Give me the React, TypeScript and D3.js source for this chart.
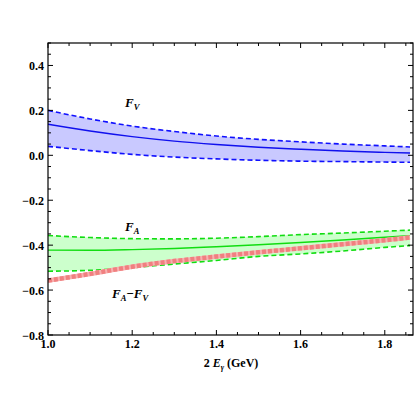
import React from "react";
import * as d3 from "d3";

const xs = [1.0, 1.1, 1.2, 1.3, 1.4, 1.5, 1.6, 1.7, 1.8, 1.86];
const fvCenter = [0.138, 0.108, 0.083, 0.063, 0.048, 0.036, 0.027, 0.019, 0.013, 0.01];
const fvUpper = [0.2, 0.162, 0.13, 0.106, 0.086, 0.071, 0.06, 0.05, 0.042, 0.037];
const fvLower = [0.04, 0.021, 0.004, -0.008, -0.016, -0.022, -0.026, -0.028, -0.03, -0.031];
const faCenter = [-0.422, -0.423, -0.42, -0.415, -0.407, -0.398, -0.388, -0.377, -0.365, -0.358];
const faUpper = [-0.357, -0.366, -0.371, -0.372, -0.369, -0.362, -0.353, -0.346, -0.338, -0.333];
const faLower = [-0.516, -0.512, -0.5, -0.484, -0.468, -0.45, -0.439, -0.426, -0.41, -0.402];
const faMinusFv = [-0.558, -0.528, -0.496, -0.471, -0.451, -0.432, -0.414, -0.396, -0.378, -0.366];

const xTicks = [1.0, 1.2, 1.4, 1.6, 1.8];
const yTicks = [-0.8, -0.6, -0.4, -0.2, 0.0, 0.2, 0.4];

const W = 415, H = 415;
const L = 48, R = 413, T = 43, B = 335;

export default function App() {
  const x = d3.scaleLinear().domain([1.0, 1.867]).range([L, R]);
  const y = d3.scaleLinear().domain([-0.8, 0.5]).range([B, T]);

  const line = (vals: number[]) =>
    d3.line<number>().x((_, i) => x(xs[i])).y((v) => y(v)).curve(d3.curveMonotoneX)(vals) || "";
  const area = (lo: number[], hi: number[]) =>
    d3.area<number>().x((_, i) => x(xs[i])).y0((_, i) => y(lo[i])).y1((v) => y(v)).curve(d3.curveMonotoneX)(hi) || "";

  const xMinor = d3.range(1.0, 1.8671, 0.05);
  const yMinor = d3.range(-0.8, 0.5001, 0.05);
  const font = "'Liberation Serif', 'Times New Roman', serif";
  const fs = 12;

  return (
    <svg width={W} height={H} style={{ position: "absolute", left: 0, top: 0 }}>
      <rect width={W} height={H} fill="white" />
      <defs>
        <clipPath id="clip"><rect x={L} y={T} width={R - L} height={B - T} /></clipPath>
      </defs>
      <g clipPath="url(#clip)">
        <path d={area(fvLower, fvUpper)} fill="#c9c9ff" />
        <path d={area(faLower, faUpper)} fill="#ccffcc" />
        <path d={line(fvUpper)} fill="none" stroke="#1010ff" strokeWidth={1.6} strokeDasharray="5,3" />
        <path d={line(fvLower)} fill="none" stroke="#1010ff" strokeWidth={1.6} strokeDasharray="5,3" />
        <path d={line(fvCenter)} fill="none" stroke="#1010ee" strokeWidth={1.4} />
        <path d={line(faUpper)} fill="none" stroke="#11dd11" strokeWidth={1.6} strokeDasharray="5,3" />
        <path d={line(faLower)} fill="none" stroke="#11dd11" strokeWidth={1.6} strokeDasharray="5,3" />
        <path d={line(faCenter)} fill="none" stroke="#11dd11" strokeWidth={1.4} />
        <path d={line(faMinusFv)} fill="none" stroke="#f8b0b0" strokeWidth={4.5} />
        <path d={line(faMinusFv)} fill="none" stroke="#f08080" strokeWidth={4.5} strokeDasharray="4,2" />
      </g>
      <rect x={L} y={T} width={R - L} height={B - T} fill="none" stroke="black" strokeWidth={1.2} />
      {xMinor.map((v, i) => {
        const major = xTicks.some((t) => Math.abs(t - v) < 1e-6);
        const len = major ? 5 : 3;
        return (
          <g key={"xt" + i}>
            <line x1={x(v)} x2={x(v)} y1={B} y2={B - len} stroke="black" strokeWidth={1} />
            <line x1={x(v)} x2={x(v)} y1={T} y2={T + len} stroke="black" strokeWidth={1} />
          </g>
        );
      })}
      {yMinor.map((v, i) => {
        const major = yTicks.some((t) => Math.abs(t - v) < 1e-6);
        const len = major ? 5 : 3;
        return (
          <g key={"yt" + i}>
            <line x1={L} x2={L + len} y1={y(v)} y2={y(v)} stroke="black" strokeWidth={1} />
            <line x1={R} x2={R - len} y1={y(v)} y2={y(v)} stroke="black" strokeWidth={1} />
          </g>
        );
      })}
      {xTicks.map((v) => (
        <text key={"xl" + v} x={x(v)} y={B + 13} textAnchor="middle" fontFamily={font} fontWeight="bold" fontSize={fs}>
          {v.toFixed(1)}
        </text>
      ))}
      {yTicks.map((v) => (
        <text key={"yl" + v} x={L - 4} y={y(v) + 4.5} textAnchor="end" fontFamily={font} fontWeight="bold" fontSize={fs}>
          {v < 0 ? "\u2212" + Math.abs(v).toFixed(1) : v.toFixed(1)}
        </text>
      ))}
      <text x={231} y={367} textAnchor="middle" fontFamily={font} fontWeight="bold" fontSize={fs}>
        2 <tspan fontStyle="italic">E</tspan>
        <tspan fontStyle="italic" fontSize={8} dy={3}>γ</tspan>
        <tspan dy={-3}> (GeV)</tspan>
      </text>
      <text x={125} y={107} fontFamily={font} fontWeight="bold" fontStyle="italic" fontSize={13}>
        F<tspan fontSize={8.5} dy={2.5}>V</tspan>
      </text>
      <text x={125} y={231} fontFamily={font} fontWeight="bold" fontStyle="italic" fontSize={13}>
        F<tspan fontSize={8.5} dy={2.5}>A</tspan>
      </text>
      <text x={112} y={298} fontFamily={font} fontWeight="bold" fontStyle="italic" fontSize={13}>
        F<tspan fontSize={8.5} dy={2.5}>A</tspan>
        <tspan dy={-2.5} fontStyle="normal">{"\u2212"}</tspan>
        <tspan>F</tspan>
        <tspan fontSize={8.5} dy={2.5}>V</tspan>
      </text>
    </svg>
  );
}
